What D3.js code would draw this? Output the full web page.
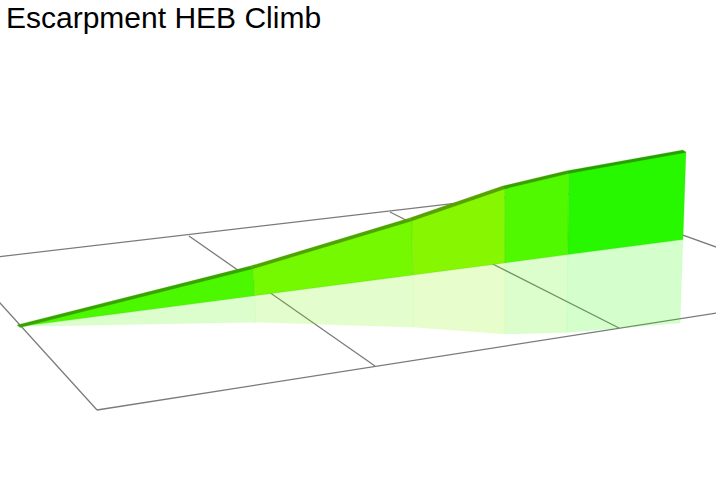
<!DOCTYPE html>
<html>
<head>
<meta charset="utf-8">
<script src="https://d3js.org/d3.v7.min.js"></script>
<style>
  html, body { margin: 0; padding: 0; background: #fff; overflow: hidden; }
  svg { display: block; }
  .title { font-family: "Liberation Sans", Arial, sans-serif; font-size: 30px; fill: #000; }
  .floor line { stroke: #7a7a7a; stroke-width: 1.3; }
</style>
</head>
<body>
<script>
const title = 'Escarpment HEB Climb';

// climb profile
const distance = [0, 2.83, 4.74, 5.85, 6.61, 8];   // km
const elevation = [0, 140, 275, 375, 410, 440];    // m gained
const segColors = ['#4cf800', '#74f900', '#86f700', '#50f900', '#27f800'];
const topColors = ['#38a400', '#4ea400', '#58a200', '#3aa000', '#28a000'];

// floor grid
const gridAcross = [0, 1, 2, 3];
const gridAlong = [0, 1];

const width = 716, height = 480;

let svg = d3.select('body').append('svg')
  .attr('width', width)
  .attr('height', height);

svg.append('text').attr('class', 'title')
  .attr('x', 6).attr('y', 28)
  .text(title);

// floor is drawn in perspective so each edge gets its own scale
let backX = d3.scaleLinear().domain(gridAcross).range([-38, 189, 390, 560]);
let backY = d3.scaleLinear().domain(gridAcross).range([261, 236, 212, 191]);
let frontX = d3.scaleLinear().domain(gridAcross).range([97, 375, 619, 844]);
let frontY = d3.scaleLinear().domain(gridAcross).range([410, 366, 328, 293]);

let floor = svg.append('g').attr('class', 'floor');

floor.selectAll('line.across').data(gridAcross).join('line')
  .attr('class', 'across')
  .attr('x1', d => backX(d)).attr('y1', d => backY(d))
  .attr('x2', d => frontX(d)).attr('y2', d => frontY(d));

floor.selectAll('line.along').data(gridAlong).join('line')
  .attr('class', 'along')
  .attr('x1', d => (d ? frontX : backX)(0)).attr('y1', d => (d ? frontY : backY)(0))
  .attr('x2', d => (d ? frontX : backX)(3)).attr('y2', d => (d ? frontY : backY)(3));

// ribbon
let xScale = d3.scaleLinear().domain([0, 8]).range([20, 683]);
let baseY = d3.scaleLinear().domain([0, 8]).range([326.5, 239.5]);
let rise = d3.scaleLinear().domain([0, 440]).range([0, 88]);
let mirror = d3.scaleLinear().domain([0, 440]).range([0, 83.5]);
let lean = d3.scaleLinear().domain([2.83, 8]).range([-0.05, 0.034]);

const pt = (i, h) => {
  return [xScale(distance[i]) + lean(distance[i]) * h, baseY(distance[i]) - h];
};
const path = pts => 'M' + pts.map(p => p.join(',')).join('L') + 'Z';
const segs = d3.range(distance.length - 1);

// reflection goes first, it lies on the floor lines
svg.append('g').selectAll('path').data(segs).join('path')
  .attr('d', i => path([
    pt(i, 0), pt(i + 1, 0),
    pt(i + 1, -mirror(elevation[i + 1])), pt(i, -mirror(elevation[i]))
  ]))
  .attr('fill', i => segColors[i])
  .attr('fill-opacity', 0.2)
  .attr('stroke', i => segColors[i])
  .attr('stroke-opacity', 0.05)
  .attr('stroke-width', 0.8);

// wall
svg.append('g').selectAll('path').data(segs).join('path')
  .attr('d', i => path([
    pt(i, 0), pt(i + 1, 0),
    pt(i + 1, rise(elevation[i + 1])), pt(i, rise(elevation[i]))
  ]))
  .attr('fill', i => segColors[i])
  .attr('stroke', '#3cc000')
  .attr('stroke-opacity', 0.25)
  .attr('stroke-width', 0.8);

// darker strip along the top of the wall
svg.append('g').selectAll('path').data(segs).join('path')
  .attr('d', i => {
    let a = pt(i, rise(elevation[i]));
    let b = pt(i + 1, rise(elevation[i + 1]));
    return path([
      [a[0], a[1] + 1], [b[0], b[1] + 1],
      [b[0] - 3, b[1] - 1.6], [a[0] - 3, a[1] - 1.6]
    ]);
  })
  .attr('fill', i => topColors[i])
  .attr('stroke', i => topColors[i])
  .attr('stroke-width', 0.2);
</script>
</body>
</html>
